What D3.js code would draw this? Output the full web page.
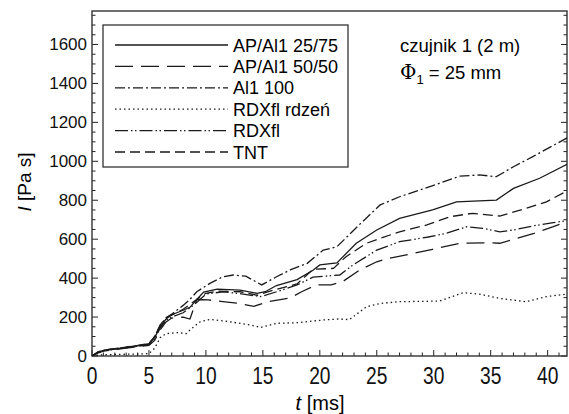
<!DOCTYPE html>
<html>
<head>
<meta charset="utf-8">
<style>
  body { margin: 0; background: #fff; font-family: "Liberation Sans", Arial, Helvetica, sans-serif; }
  svg { display: block; }
  .axis text { fill: #111; }
</style>
<script src="https://d3js.org/d3.v7.min.js"></script>
</head>
<body>
<svg id="chart" width="569" height="414"></svg>
<script>
// x ticks / y ticks
const xTicks = [0, 5, 10, 15, 20, 25, 30, 35, 40]
const yTicks = [0, 200, 400, 600, 800, 1000, 1200, 1400, 1600]

const seriesNames = ["AP/Al1 25/75", "AP/Al1 50/50", "Al1 100", "RDXfl rdzeń", "RDXfl", "TNT"]

// [t ms, I Pa s]
const ap2575 = [[0,0],[0.5,18],[1,28],[2,36],[3,44],[4,52],[5,62],[5.5,95],[6,150],[6.5,190],[7,212],[8,235],[8.6,250],[9.2,290],[9.8,328],[11,343],[13,338],[14.5,322],[15.2,330],[16.2,362],[18,392],[19.4,440],[20,468],[21.5,478],[23.2,579],[25,647],[27,707],[29.9,750],[32,792],[35.5,801],[37,861],[39.3,913],[41.7,985]]
const ap5050 = [[0,0],[0.5,15],[1,25],[2,33],[3,40],[4,48],[5,55],[5.5,80],[6,135],[6.5,175],[7,195],[8,200],[8.6,190],[9.2,290],[10.2,288],[11.5,279],[12.7,272],[14.2,255],[15.5,280],[17.4,298],[18.4,330],[19.7,365],[21,365],[22,382],[23.5,442],[25,484],[26.1,502],[27.6,519],[29.9,548],[32.3,579],[34.9,582],[35.8,579],[37.3,604],[38.8,630],[40.5,664],[41.7,690]]
const al100 = [[0,0],[0.5,20],[1,30],[2,38],[3,45],[4,53],[5,62],[5.5,100],[6,160],[6.5,195],[7,215],[8,260],[8.5,285],[9.2,330],[10.35,373],[11.5,407],[12.4,416],[13.5,410],[14.9,365],[16.2,407],[17.4,442],[18.9,476],[20.3,544],[21.5,561],[23.5,676],[25.3,776],[27,818],[28.8,853],[30.5,887],[32.3,924],[34,930],[35.5,921],[37,972],[38.7,1024],[41.7,1120]]
const rdxCore = [[0,0],[0.5,4],[1,6],[2,8],[3,9],[4,10],[5,12],[5.5,40],[6,95],[6.5,115],[7.5,120],[8.3,115],[8.6,134],[9.5,176],[10.35,188],[12.1,176],[13.9,159],[14.8,147],[16.2,168],[18,171],[20.3,185],[21.6,190],[22.6,187],[24.1,253],[25.3,270],[27,279],[30.5,282],[32.6,325],[34,318],[35.8,296],[38.1,279],[39.9,305],[41.7,318]]
const rdx = [[0,0],[0.5,18],[1,27],[2,35],[3,42],[4,50],[5,58],[5.5,85],[6,145],[6.5,185],[7,200],[8,222],[9,265],[10,318],[11.5,330],[13,320],[14.8,305],[16.2,330],[18,365],[19.4,405],[21.75,416],[22.9,467],[25,544],[27,587],[29.4,610],[31.1,630],[32.9,664],[34.3,656],[35.8,638],[37,647],[38.7,668],[40.5,685],[41.7,695]]
const tnt = [[0,0],[0.5,20],[1,30],[2,38],[3,46],[4,54],[5,64],[5.5,100],[6,160],[6.5,198],[7,210],[8,240],[9,282],[10,322],[11,333],[13,330],[14.5,312],[15,322],[16.2,343],[18,370],[19.4,445],[21.2,450],[22.3,510],[24.1,579],[25.3,604],[27,638],[29.4,673],[31.4,715],[33.4,733],[35.8,719],[38.1,758],[39.9,792],[41.7,848]]

const seriesData = [ap2575, ap5050, al100, rdxCore, rdx, tnt]
const dashes = [null, "18,8", "10,3,2,3", "1.5,3", "13,3,1.5,2.5,1.5,3", "10,5"]

const W = 569, H = 414
const margin = {top: 11, right: 2, bottom: 58, left: 92}
const iw = W - margin.left - margin.right
const ih = H - margin.top - margin.bottom

const svg = d3.select("#chart")
const g = svg.append("g").attr("transform", `translate(${margin.left},${margin.top})`)

const x = d3.scaleLinear().domain([0, 41.7]).range([0, iw])
const y = d3.scaleLinear().domain([0, 1772]).range([ih, 0])

g.append("clipPath").attr("id", "clip")
  .append("rect").attr("width", iw).attr("height", ih)

// minor ticks
const xMinor = d3.range(0, 42, 1)
const yMinor = d3.range(0, 1772, 50)
g.selectAll(".xm").data(xMinor).enter().append("line")
  .attr("x1", d => x(d)).attr("x2", d => x(d))
  .attr("y1", ih).attr("y2", d => ih - (d % 5 === 0 ? 6 : 3.5))
  .attr("stroke", "#222").attr("stroke-width", 1)
g.selectAll(".ym").data(yMinor).enter().append("line")
  .attr("x1", 0).attr("x2", d => (d % 200 === 0 ? 6 : 3.5))
  .attr("y1", d => y(d)).attr("y2", d => y(d))
  .attr("stroke", "#222").attr("stroke-width", 1)
g.selectAll(".yr").data(yMinor).enter().append("line")
  .attr("x1", iw).attr("x2", d => iw - (d % 200 === 0 ? 6 : 3.5))
  .attr("y1", d => y(d)).attr("y2", d => y(d))
  .attr("stroke", "#222").attr("stroke-width", 1)

// frame
g.append("rect").attr("width", iw).attr("height", ih)
  .attr("fill", "none").attr("stroke", "#333").attr("stroke-width", 1.4)

// tick labels (x labels are tall and narrow in the original)
g.append("g").attr("class", "axis").selectAll("text").data(xTicks).enter().append("text")
  .attr("transform", d => `translate(${x(d)},${ih + 28}) scale(0.8,1)`)
  .attr("text-anchor", "middle").attr("font-size", 24)
  .text(d => d)
g.append("g").attr("class", "axis").selectAll("text").data(yTicks).enter().append("text")
  .attr("x", -5).attr("y", d => y(d) + 6)
  .attr("text-anchor", "end").attr("font-size", 17)
  .text(d => d)

// axis titles
const xt = svg.append("text").attr("x", 320).attr("y", 410).attr("text-anchor", "middle").attr("font-size", 20)
xt.append("tspan").attr("font-style", "italic").text("t")
xt.append("tspan").text(" [ms]")
const yt = svg.append("text").attr("transform", "translate(31,182) rotate(-90)").attr("text-anchor", "middle").attr("font-size", 19)
yt.append("tspan").attr("font-style", "italic").text("I")
yt.append("tspan").text(" [Pa s]")

// lines
const line = d3.line().x(d => x(d[0])).y(d => y(d[1]))
g.append("g").attr("clip-path", "url(#clip)")
  .selectAll("path").data(seriesData).enter().append("path")
  .attr("d", line)
  .attr("fill", "none").attr("stroke", "#1a1a1a").attr("stroke-width", 1.3)
  .attr("stroke-dasharray", (d, i) => dashes[i])

// legend
const lg = svg.append("g")
lg.append("rect").attr("x", 103).attr("y", 25).attr("width", 245).attr("height", 142)
  .attr("fill", "#fff").attr("stroke", "#333").attr("stroke-width", 1.3)
const rows = lg.selectAll(".row").data(seriesNames).enter().append("g")
  .attr("transform", (d, i) => `translate(0,${45 + i * 21.4})`)
rows.append("line").attr("x1", 115).attr("x2", 228).attr("y1", 0).attr("y2", 0)
  .attr("stroke", "#1a1a1a").attr("stroke-width", 1.3)
  .attr("stroke-dasharray", (d, i) => dashes[i])
rows.append("text").attr("x", 233).attr("y", 6.5).attr("font-size", 18).text(d => d)

// annotation
svg.append("text").attr("x", 400).attr("y", 52).attr("font-size", 18.5).text("czujnik 1 (2 m)")
const phi = svg.append("text").attr("x", 400).attr("y", 79).attr("font-size", 18.5)
phi.append("tspan").attr("font-family", "'DejaVu Serif', serif").attr("font-size", 20).text("Φ")
phi.append("tspan").attr("font-size", 13).attr("dy", 5).text("1")
phi.append("tspan").attr("dy", -5).text(" = 25 mm")
</script>
</body>
</html>
